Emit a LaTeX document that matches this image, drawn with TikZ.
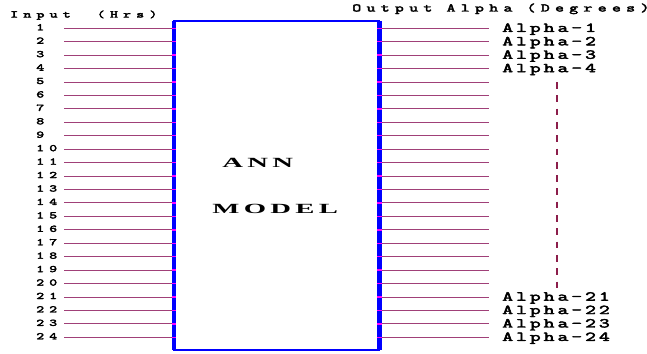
\documentclass[tikz,border=0pt]{standalone}
\usepackage{fontspec}
\newfontfamily\cour{Latin Modern Mono}[FakeBold=3]
\newfontfamily\tms{Liberation Serif}

\definecolor{sigcol}{RGB}{160,64,120}
\definecolor{tickcol}{RGB}{255,0,255}
\definecolor{dashcol}{RGB}{140,30,75}
\definecolor{boxblue}{RGB}{0,0,255}

\newcommand\numfont{\cour\fontsize{10pt}{10pt}\selectfont\addfontfeatures{LetterSpace=34}}
\newcommand\alphafont{\cour\fontsize{13.5pt}{13.5pt}\selectfont\addfontfeatures{LetterSpace=14.5}}
\newcommand\inhdrfont{\cour\fontsize{10pt}{10pt}\selectfont\addfontfeatures{LetterSpace=35}}
\newcommand\outhdrfont{\cour\fontsize{11.5pt}{11.5pt}\selectfont\addfontfeatures{LetterSpace=31}}
\newcommand\modelfont{\tms\bfseries\fontsize{14pt}{14pt}\selectfont\addfontfeatures{LetterSpace=15}}

\tikzset{
  sig/.style={line width=1pt, draw=sigcol},
  pintick/.style={line width=1.4pt, draw=tickcol},
  modelbox/.style={draw=boxblue, line width=1.8pt, minimum width=205.5pt,
    minimum height=329pt, outer sep=0pt, inner sep=0pt, anchor=north west},
  boxside/.style={line width=4.5pt, draw=boxblue},
  monolbl/.style={anchor=base west, inner sep=0pt},
  numlbl/.style={monolbl, font=\numfont, xscale=1.5},
  hdrlbl/.style={monolbl, xscale=1.5},
  alphalbl/.style={monolbl, font=\alphafont, xscale=1.55},
  modellbl/.style={anchor=base west, inner sep=0pt, font=\modelfont, xscale=2.05},
  dashline/.style={line width=1.3pt, draw=dashcol, dash pattern=on 6.7pt off 6.6pt},
}

\begin{document}
\begin{tikzpicture}[x=1pt,y=-1pt]
\useasboundingbox (0,0) rectangle (647,353);

% the model block
\node[modelbox] (model) at (174,21) {};
\draw[boxside] (model.north west) -- (model.south west);
\draw[boxside] (model.north east) -- (model.south east);

% column headings
\node[hdrlbl, font=\inhdrfont] (inhdr) at (10,17.5) {Input\ \ (Hrs)};
\node[hdrlbl, font=\outhdrfont] (outhdr) at (352,11.5) {Output Alpha (Degrees)};

% block caption
\node[modellbl] (ann) at (222,167.5) {ANN};
\node[modellbl] (mdl) at (212,213.5) {MODEL};

% 24 hourly inputs and 24 outputs
\foreach \i in {1,...,24} {
  \pgfmathsetmacro\yy{28.3+(\i-1)*13.435}
  \node[numlbl] (in\i) at (36,\yy+2) {\i};
  \coordinate (ls\i) at (64,\yy);
  \coordinate (re\i) at (489,\yy);
  \draw[sig] (ls\i) -- (ls\i -| model.west);
  \draw[sig] (ls\i -| model.east) -- (re\i);
  \draw[pintick] ([xshift=-2.5pt]ls\i -| model.west) -- ++(4.5,0);
  \draw[pintick] ([xshift=-2.5pt]ls\i -| model.east) -- ++(4.5,0);
}

% output names
\foreach \i in {1,2,3,4,21,22,23,24} {
  \node[alphalbl] (out\i) at ([xshift=13pt,yshift=-3.6pt]re\i) {Alpha-\i};
}

% ellipsis between Alpha-4 and Alpha-21
\coordinate (dtop) at (557,82);
\coordinate (dbot) at (557,292);
\draw[dashline] (dtop) -- (dbot);
\end{tikzpicture}
\end{document}
